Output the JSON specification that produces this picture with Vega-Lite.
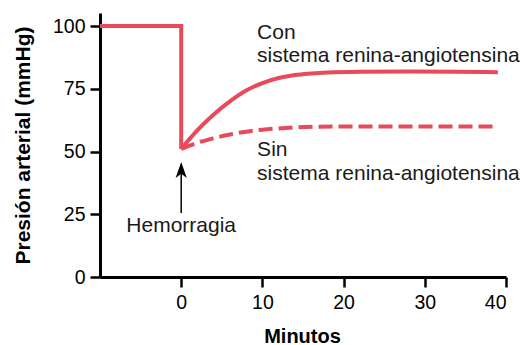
{
  "$schema": "https://vega.github.io/schema/vega-lite/v6.json",
  "width": 406,
  "height": 264,
  "autosize": {"type": "none"},
  "padding": {"left": 100, "top": 13, "right": 21, "bottom": 68},
  "background": "white",
  "config": {
    "view": {"stroke": null},
    "font": "Liberation Sans",
    "axis": {
      "grid": false,
      "domainColor": "black",
      "domainWidth": 3,
      "tickColor": "black",
      "tickWidth": 2.5,
      "tickSize": 10,
      "labelColor": "black",
      "labelFontSize": 19.5,
      "labelFont": "Liberation Sans",
      "titleColor": "black",
      "titleFont": "Liberation Sans",
      "titleFontWeight": "bold"
    }
  },
  "datasets": {
    "pre": [
      {"min": -10, "p": 100, "i": 0},
      {"min": 0, "p": 100, "i": 1},
      {"min": 0, "p": 51, "i": 2}
    ],
    "con": [
      {"min": 0, "p": 51},
      {"min": 2, "p": 58.5},
      {"min": 4, "p": 64.8},
      {"min": 6, "p": 70},
      {"min": 8, "p": 74.3},
      {"min": 10, "p": 77.3},
      {"min": 12, "p": 79.3},
      {"min": 14, "p": 80.5},
      {"min": 16, "p": 81.1},
      {"min": 18, "p": 81.5},
      {"min": 22, "p": 81.8},
      {"min": 28, "p": 81.9},
      {"min": 34, "p": 81.8},
      {"min": 39, "p": 81.6}
    ],
    "sin": [
      {"min": 0, "p": 51},
      {"min": 2, "p": 53.5},
      {"min": 4, "p": 55.3},
      {"min": 6, "p": 56.8},
      {"min": 8, "p": 57.9},
      {"min": 10, "p": 58.7},
      {"min": 12, "p": 59.2},
      {"min": 14, "p": 59.6},
      {"min": 17, "p": 59.9},
      {"min": 20, "p": 60},
      {"min": 39, "p": 60}
    ],
    "one": [{"k": 1}]
  },
  "layer": [
    {
      "data": {"name": "pre"},
      "mark": {"type": "line", "color": "#e84a5c", "strokeWidth": 4, "strokeJoin": "miter"},
      "encoding": {
        "x": {
          "field": "min", "type": "quantitative",
          "scale": {"domain": [-10, 40], "nice": false, "zero": false},
          "axis": {
            "values": [0, 10, 20, 30, 40],
            "title": "Minutos",
            "titleFontSize": 20,
            "titleX": 202,
            "titleY": 65,
            "titleBaseline": "alphabetic",
            "labelPadding": 6
          }
        },
        "y": {
          "field": "p", "type": "quantitative",
          "scale": {"domain": [0, 105.2], "nice": false},
          "axis": {
            "values": [0, 25, 50, 75, 100],
            "title": "Presión arterial (mmHg)",
            "titleFontSize": 21,
            "titleX": -71,
            "titleY": 132,
            "titleBaseline": "alphabetic",
            "labelPadding": 5
          }
        },
        "order": {"field": "i"}
      }
    },
    {
      "data": {"name": "con"},
      "mark": {"type": "line", "color": "#e84a5c", "strokeWidth": 4, "interpolate": "monotone"},
      "encoding": {
        "x": {"field": "min", "type": "quantitative"},
        "y": {"field": "p", "type": "quantitative"}
      }
    },
    {
      "data": {"name": "sin"},
      "mark": {"type": "line", "color": "#e84a5c", "strokeWidth": 4, "interpolate": "monotone", "strokeDash": [14, 6]},
      "encoding": {
        "x": {"field": "min", "type": "quantitative"},
        "y": {"field": "p", "type": "quantitative"}
      }
    },
    {
      "data": {"name": "one"},
      "mark": {"type": "rule", "color": "black", "strokeWidth": 1.5},
      "encoding": {
        "x": {"datum": 0},
        "y": {"datum": 25.5},
        "y2": {"datum": 42}
      }
    },
    {
      "data": {"name": "one"},
      "mark": {"type": "point", "shape": "M0,-1L0.7,1L0,0.45L-0.7,1Z", "filled": true, "color": "black", "opacity": 1, "size": 256},
      "encoding": {
        "x": {"datum": 0},
        "y": {"datum": 42.6}
      }
    },
    {
      "data": {"name": "one"},
      "mark": {"type": "text", "align": "left", "baseline": "alphabetic", "fontSize": 21, "lineHeight": 23, "color": "#1a1a1a", "text": ["Con", "sistema renina-angiotensina"]},
      "encoding": {
        "x": {"datum": 9.35},
        "y": {"datum": 94.8}
      }
    },
    {
      "data": {"name": "one"},
      "mark": {"type": "text", "align": "left", "baseline": "alphabetic", "fontSize": 21, "lineHeight": 24, "color": "#1a1a1a", "text": ["Sin", "sistema renina-angiotensina"]},
      "encoding": {
        "x": {"datum": 9.35},
        "y": {"datum": 48.2}
      }
    },
    {
      "data": {"name": "one"},
      "mark": {"type": "text", "align": "center", "baseline": "alphabetic", "fontSize": 21, "color": "#1a1a1a", "text": "Hemorragia"},
      "encoding": {
        "x": {"datum": 0},
        "y": {"datum": 18.1}
      }
    }
  ]
}
